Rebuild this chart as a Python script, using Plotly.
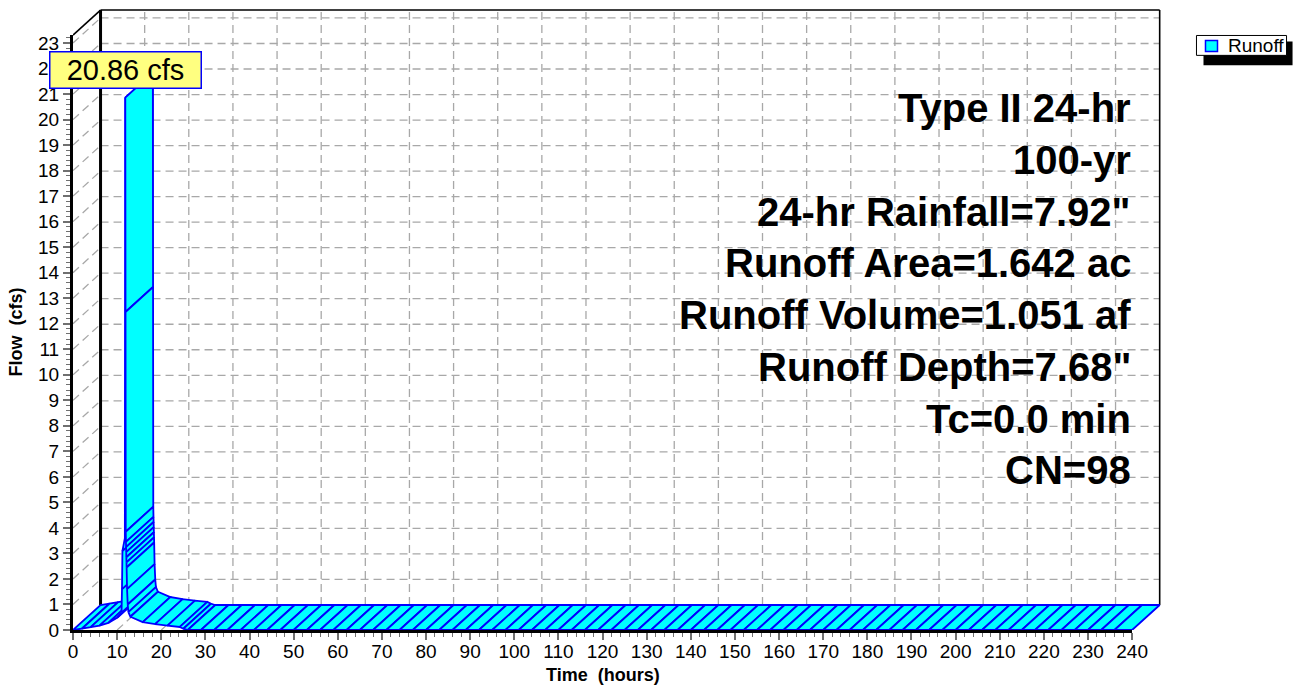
import plotly.graph_objects as go

# ---------------- data ----------------
time_h = [
    0.0, 2.0, 4.0, 6.0, 8.0, 10.0, 11.0, 11.1, 11.2, 11.75, 11.85,
    11.9, 11.95, 12.0, 12.03, 12.06, 12.09, 12.12, 12.15, 12.25, 12.4, 12.55,
    13.0, 15.8, 18.6, 21.4, 24.2, 25.0, 26.0,
    29, 32, 35, 38, 41, 44, 47, 50, 53, 56, 59, 62, 65, 68, 71, 74, 77, 80,
    83, 86, 89, 92, 95, 98, 101, 104, 107, 110, 113, 116, 119, 122, 125, 128,
    131, 134, 137, 140, 143, 146, 149, 152, 155, 158, 161, 164, 167, 170, 173,
    176, 179, 182, 185, 188, 191, 194, 197, 200, 203, 206, 209, 212, 215, 218,
    221, 224, 227, 230, 233, 236, 240,
]
flow_cfs = [
    0.0, 0.05, 0.11, 0.17, 0.28, 0.48, 0.68, 1.6, 3.1, 3.6, 20.86,
    12.46, 3.85, 3.45, 3.25, 3.05, 2.85, 2.65, 2.45, 1.6, 1.0, 0.7,
    0.52, 0.31, 0.23, 0.17, 0.12, 0.05, 0.0,
    0, 0, 0, 0, 0, 0, 0, 0, 0, 0, 0, 0, 0, 0, 0, 0, 0, 0,
    0, 0, 0, 0, 0, 0, 0, 0, 0, 0, 0, 0, 0, 0, 0, 0,
    0, 0, 0, 0, 0, 0, 0, 0, 0, 0, 0, 0, 0, 0, 0,
    0, 0, 0, 0, 0, 0, 0, 0, 0, 0, 0, 0, 0, 0, 0,
    0, 0, 0, 0, 0, 0, 0,
]
x_tick_vals = [0, 10, 20, 30, 40, 50, 60, 70, 80, 90, 100, 110, 120, 130, 140,
               150, 160, 170, 180, 190, 200, 210, 220, 230, 240]
y_tick_vals = [0, 1, 2, 3, 4, 5, 6, 7, 8, 9, 10, 11, 12, 13, 14, 15, 16, 17,
               18, 19, 20, 21, 22, 23]
info_lines = ["Type II 24-hr", "100-yr", '24-hr Rainfall=7.92"',
              "Runoff Area=1.642 ac", "Runoff Volume=1.051 af",
              'Runoff Depth=7.68"', "Tc=0.0 min", "CN=98"]
series_name = "Runoff"
flow_unit = "cfs"
x_title = "Time\u00a0 (hours)"
y_title = "Flow\u00a0 (cfs)"

# ---------------- geometry / style ----------------
W, H = 1294, 686
KX, KY = 4.41, 25.65          # px per hour, px per cfs
X_FRONT, Y_FRONT = 240.0, 23.31
DX, DY = 6.24, 0.98           # 3-D depth offset (data units)
ML, MB = 73.3, 55.5
XPAD, YPAD = 0.3, 0.12
x_rng = [0, X_FRONT + DX + XPAD]
y_rng = [0, Y_FRONT + DY + YPAD]
plot_w = x_rng[1] * KX
plot_h = y_rng[1] * KY
MR = W - ML - plot_w
MT = H - MB - plot_h

CYAN = "#00FFFF"
BLUE = "#0000FF"
GRID = "#A8A8A8"
TICK = "#707070"
FONT = "Liberation Sans, Arial, Helvetica, sans-serif"


def px_x(px):
    return (px - ML) / plot_w


def px_y(py):
    return (H - MB - py) / plot_h


def lines_trace(segs, color, width, dash=None):
    xs, ys = [], []
    for (x0, y0, x1, y1) in segs:
        xs += [x0, x1, None]
        ys += [y0, y1, None]
    return go.Scatter(x=xs, y=ys, mode="lines",
                      line=dict(color=color, width=width, dash=dash),
                      hoverinfo="skip", showlegend=False)


fig = go.Figure()
top_back = Y_FRONT + DY
right_back = X_FRONT + DX

# side-wall diagonals, floor diagonals, back-wall grid
fig.add_trace(lines_trace([(0, q, DX, q + DY) for q in y_tick_vals[1:]],
                          GRID, 1.3, "8px,5px"))
fig.add_trace(lines_trace([(t, 0, t + DX, DY) for t in x_tick_vals[1:-1]],
                          GRID, 1.3, "8px,5px"))
fig.add_trace(lines_trace([(t + DX, DY, t + DX, top_back) for t in x_tick_vals[1:-1]],
                          GRID, 1.3, "8px,5px"))
fig.add_trace(lines_trace([(DX, q + DY, right_back, q + DY) for q in y_tick_vals[1:]],
                          GRID, 1.3, "8px,5px"))

# box frame
fig.add_trace(lines_trace([(DX, DY, DX, top_back)], "black", 3))
fig.add_trace(lines_trace([(DX, top_back, right_back, top_back),
                           (right_back, DY, right_back, top_back),
                           (0, Y_FRONT, DX, top_back)], "black", 1.6))

# ribbon (one quad per data segment, painted in time order)
for i in range(len(time_h) - 1):
    t0, q0, t1, q1 = time_h[i], flow_cfs[i], time_h[i + 1], flow_cfs[i + 1]
    fig.add_trace(go.Scatter(
        x=[t0, t1, t1 + DX, t0 + DX, t0],
        y=[q0, q1, q1 + DY, q0 + DY, q0],
        mode="lines", fill="toself", fillcolor=CYAN,
        line=dict(color=BLUE, width=1.8),
        hoverinfo="skip", showlegend=False))

# empty subplot carrying the front axes
fig.add_trace(go.Scatter(x=[None], y=[None], xaxis="x2", yaxis="y2",
                         showlegend=False, hoverinfo="skip"))

i_pk = flow_cfs.index(max(flow_cfs))
annotations = [
    dict(x=time_h[i_pk], y=flow_cfs[i_pk], xref="x", yref="y",
         text=f"{flow_cfs[i_pk]:.2f} {flow_unit}", showarrow=False,
         yanchor="bottom", yshift=9, width=148, height=33,
         bgcolor="#FFFF80", bordercolor=BLUE, borderwidth=1.5, borderpad=1,
         font=dict(family=FONT, size=29, color="black")),
    dict(x=X_FRONT / 2, y=0, xref="x", yref="y", yshift=-45,
         text=f"<b>{x_title}</b>", showarrow=False, yanchor="middle",
         font=dict(family=FONT, size=18, color="black")),
    dict(x=0, y=Y_FRONT / 2, xref="x", yref="y", xshift=-57,
         text=f"<b>{y_title}</b>", showarrow=False, textangle=-90,
         xanchor="center", yanchor="middle",
         font=dict(family=FONT, size=18, color="black")),
]
for k, line in enumerate(info_lines):
    annotations.append(dict(
        x=px_x(1133), y=px_y(106 + 52 * k), xref="paper", yref="paper",
        xanchor="right", yanchor="middle", showarrow=False,
        text=f"<b>{line}</b>", font=dict(family=FONT, size=40, color="black")))
annotations.append(dict(
    x=px_x(1225), y=px_y(43.5), xref="paper", yref="paper",
    xanchor="left", yanchor="middle", showarrow=False, text=series_name,
    font=dict(family=FONT, size=19, color="black")))

shapes = [
    dict(type="rect", xref="paper", yref="paper",
         x0=px_x(1203), x1=px_x(1292), y0=px_y(63), y1=px_y(39),
         fillcolor="black", line=dict(width=0)),
    dict(type="rect", xref="paper", yref="paper",
         x0=px_x(1196), x1=px_x(1286), y0=px_y(53), y1=px_y(33),
         fillcolor="white", line=dict(color="black", width=1)),
    dict(type="rect", xref="paper", yref="paper",
         x0=px_x(1205), x1=px_x(1217), y0=px_y(49), y1=px_y(38),
         fillcolor=CYAN, line=dict(color=BLUE, width=1.5)),
]

tick_font = dict(family=FONT, size=19, color="black")
fig.update_layout(
    width=W, height=H, autosize=False,
    margin=dict(l=ML, r=MR, t=MT, b=MB, pad=0),
    paper_bgcolor="white", plot_bgcolor="rgba(0,0,0,0)",
    showlegend=False,
    xaxis=dict(range=x_rng, domain=[0, 1], visible=False, fixedrange=True),
    yaxis=dict(range=y_rng, domain=[0, 1], visible=False, fixedrange=True),
    xaxis2=dict(range=[0, X_FRONT], domain=[0, X_FRONT / x_rng[1]], anchor="y2",
                tickmode="array", tickvals=x_tick_vals, ticks="outside",
                ticklen=7, tickwidth=1.5, tickcolor=TICK, tickfont=tick_font,
                ticklabelstandoff=-5,
                showline=True, linecolor="black", linewidth=3,
                showgrid=False, zeroline=False, fixedrange=True,
                minor=dict(tick0=0, dtick=2, ticks="outside", ticklen=4,
                           tickwidth=1.2, tickcolor=TICK, showgrid=False)),
    yaxis2=dict(range=[0, Y_FRONT], domain=[0, Y_FRONT / y_rng[1]], anchor="x2",
                tickmode="array", tickvals=y_tick_vals, ticks="outside",
                ticklen=7, tickwidth=1.5, tickcolor=TICK, tickfont=tick_font,
                showline=True, linecolor="black", linewidth=3,
                showgrid=False, zeroline=False, fixedrange=True,
                minor=dict(tick0=0, dtick=0.2, ticks="outside", ticklen=4,
                           tickwidth=1.2, tickcolor=TICK, showgrid=False)),
    annotations=annotations,
    shapes=shapes,
    font=dict(family=FONT),
)

fig.write_html("out.html", include_plotlyjs=True,
               config={"displayModeBar": False},
               post_script="document.body.style.margin='0px';"
                           "document.body.style.overflow='hidden';")
